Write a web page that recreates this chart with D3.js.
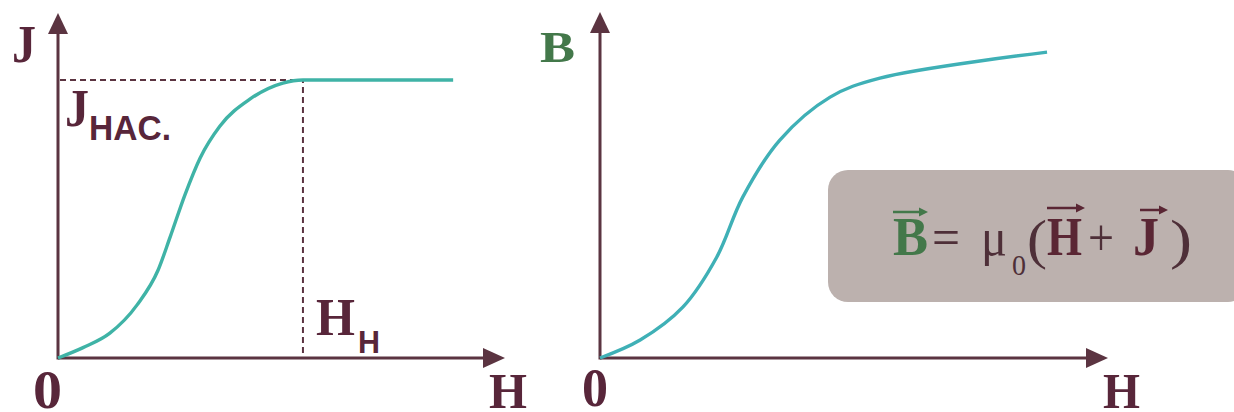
<!DOCTYPE html>
<html><head><meta charset="utf-8">
<script src="https://cdn.jsdelivr.net/npm/d3@7"></script>
<style>html,body{margin:0;padding:0;background:#fff;overflow:hidden}</style>
</head><body>
<svg id="c" width="1234" height="412"></svg>
<script>
// ---- data (unitless H / J / B, axis ends at 10) ----
const leftH  = [0, 0.56, 1.16, 1.77, 2.24, 2.51, 2.84, 3.18, 3.62, 4.30, 5.03, 5.48, 8.84];
const leftJ  = [0, 0.30, 0.72, 1.54, 2.55, 3.51, 4.73, 5.80, 6.72, 7.51, 7.97, 8.06, 8.06];
const rightH = [0, 0.79, 1.63, 2.30, 2.81, 3.54, 4.53, 5.51, 8.80];
const rightB = [0, 0.52, 1.47, 2.92, 4.65, 6.30, 7.54, 8.09, 8.84];
const jSat = 8.06;     // J_HAC.
const hSat = 5.48;     // H_H
const axisMax = 10;
const leftAxisLabels  = {y: "J", x: "H", origin: "0"};
const rightAxisLabels = {y: "B", x: "H", origin: "0"};
const formulaParts = ["B", "=", "μ", "0", "(", "H", "+", "J", ")"];

const svg = d3.select("#c");
const axisCol = "#5b3441", labCol = "#58263a", green = "#43784a";

function panel(cfg){
  const x = d3.scaleLinear().domain([0, axisMax]).range(cfg.xr);
  const y = d3.scaleLinear().domain([0, axisMax]).range(cfg.yr);
  const g = svg.append("g");
  g.append("line").attr("x1", x(0)).attr("y1", y(0)).attr("x2", x(axisMax)-18).attr("y2", y(0))
    .attr("stroke", axisCol).attr("stroke-width", 3.2);
  g.append("line").attr("x1", x(0)).attr("y1", y(0)+1.5).attr("x2", x(0)).attr("y2", y(axisMax)+18)
    .attr("stroke", axisCol).attr("stroke-width", 3);
  g.append("path").attr("d", `M${x(axisMax)},${y(0)} L${x(axisMax)-22},${y(0)-10} L${x(axisMax)-22},${y(0)+10}Z`).attr("fill", axisCol);
  g.append("path").attr("d", `M${x(0)},${y(axisMax)} L${x(0)-10},${y(axisMax)+21} L${x(0)+10},${y(axisMax)+21}Z`).attr("fill", axisCol);
  return {x, y, g};
}

// ---- left panel ----
const L = panel({xr: [58, 505], yr: [358, 13]});
L.g.append("path").attr("d", `M${L.x(0)+2},${L.y(jSat)} H${L.x(hSat)} V${L.y(0)}`)
  .attr("fill","none").attr("stroke", axisCol).attr("stroke-width", 2).attr("stroke-dasharray","6,4");
L.g.append("path").datum(leftH.map((h,i)=>[h,leftJ[i]]))
  .attr("d", d3.line().x(d=>L.x(d[0])).y(d=>L.y(d[1])).curve(d3.curveMonotoneX))
  .attr("fill","none").attr("stroke","#3fb3a6").attr("stroke-width",3.4);

const serifB = {"font-family":"'Liberation Serif','Times New Roman',serif","font-weight":"bold"};
const sansB = {"font-family":"'Liberation Sans',Arial,sans-serif","font-weight":"bold"};
function txt(g, s, x, y, size, fam, col, tl){
  const t = g.append("text").attr("x",x).attr("y",y).attr("font-size",size).attr("fill",col).text(s);
  Object.entries(fam).forEach(([k,v])=>t.attr(k,v));
  if (tl) t.attr("textLength", tl).attr("lengthAdjust","spacingAndGlyphs");
  return t;
}
txt(L.g, leftAxisLabels.y, 12, 62, 52, serifB, labCol, 24);
txt(L.g, "J", 65, 126, 52, serifB, labCol, 24);
txt(L.g, "HAC.", 89, 140, 35, sansB, labCol, 82);
txt(L.g, "H", 316, 335, 52, serifB, labCol, 39);
txt(L.g, "H", 358, 353, 31, sansB, labCol, 22);
txt(L.g, leftAxisLabels.origin, 33, 408, 54, serifB, labCol, 29);
txt(L.g, leftAxisLabels.x, 489, 408, 50, serifB, labCol, 38);

// ---- right panel ----
const R = panel({xr: [600, 1108], yr: [358, 12]});
R.g.append("path").datum(rightH.map((h,i)=>[h,rightB[i]]))
  .attr("d", d3.line().x(d=>R.x(d[0])).y(d=>R.y(d[1])).curve(d3.curveCatmullRom.alpha(0.5)))
  .attr("fill","none").attr("stroke","#3fb0b6").attr("stroke-width",3.4);
txt(R.g, rightAxisLabels.y, 540, 62, 44, serifB, green, 35);
txt(R.g, rightAxisLabels.origin, 582, 406, 54, serifB, labCol, 26);
txt(R.g, rightAxisLabels.x, 1103, 408, 50, serifB, labCol, 37);

// formula box
R.g.append("rect").attr("x",828).attr("y",170).attr("width",420).attr("height",132).attr("rx",20)
  .attr("fill","#bcb1ae");
const serif = {"font-family":"'Liberation Serif','Times New Roman',serif"};
const fcol = "#4e2f38";
txt(R.g, formulaParts[0], 893, 255, 54, serifB, green, 35);
txt(R.g, formulaParts[1], 932, 255, 52, serif, fcol, 28);
txt(R.g, formulaParts[2], 981, 255, 52, serif, fcol, 26);
txt(R.g, formulaParts[3], 1012, 275, 30, serif, fcol, 14);
txt(R.g, formulaParts[4], 1027, 258, 54, serif, fcol, 20);
txt(R.g, formulaParts[5], 1047, 255, 54, serifB, "#5a2634", 35);
txt(R.g, formulaParts[6], 1088, 255, 52, serif, fcol, 26);
txt(R.g, formulaParts[7], 1133, 255, 54, serifB, "#5a2634", 26);
txt(R.g, formulaParts[8], 1170, 258, 54, serif, fcol, 22);
function vecArrow(x1, x2, yy, col){
  R.g.append("line").attr("x1",x1).attr("x2",x2-6).attr("y1",yy).attr("y2",yy).attr("stroke",col).attr("stroke-width",2.5);
  R.g.append("path").attr("d",`M${x2},${yy} L${x2-9},${yy-4.5} L${x2-9},${yy+4.5}Z`).attr("fill",col);
}
vecArrow(893, 928, 212, green);
vecArrow(1047, 1085, 208, "#5a2634");
vecArrow(1140, 1168, 210, "#5a2634");
</script>
</body></html>
